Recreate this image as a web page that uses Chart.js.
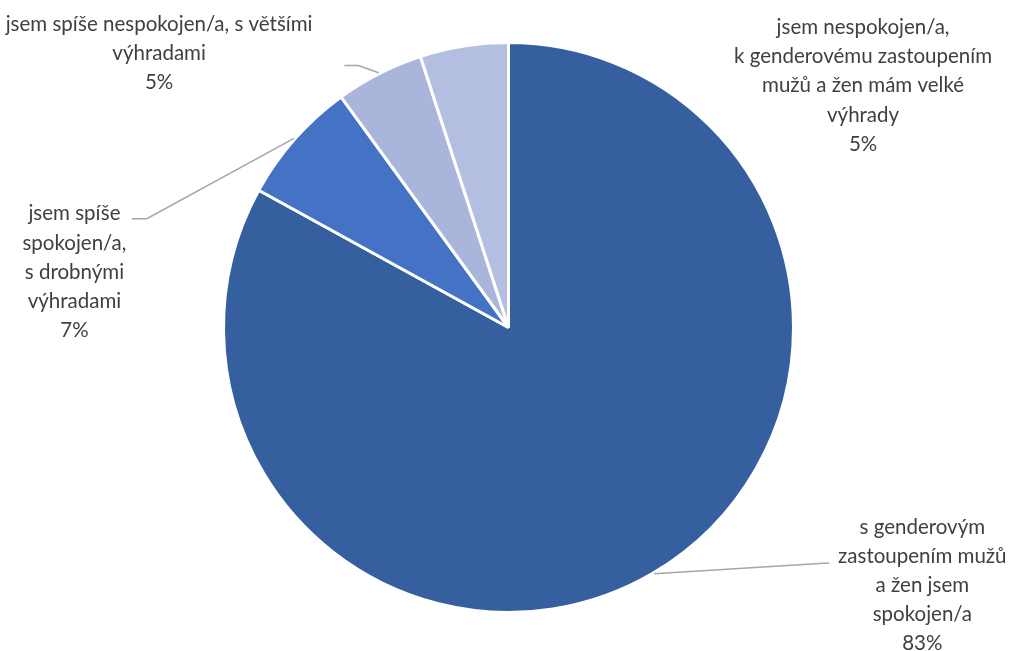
<!DOCTYPE html>
<html>
<head>
<meta charset="utf-8">
<script src="https://cdn.jsdelivr.net/npm/chart.js@4/dist/chart.umd.min.js"></script>
<style>
  html, body { margin: 0; padding: 0; background: #ffffff; }
  #wrap { width: 1017px; height: 651px; position: relative; }
</style>
</head>
<body>
<div id="wrap"><canvas id="pie"></canvas></div>
<script>
// Spokojenost s genderovým zastoupením mužů a žen
const categories = [
  's genderovým\nzastoupením mužů\na žen jsem\nspokojen/a',
  'jsem spíše\nspokojen/a,\ns drobnými\nvýhradami',
  'jsem spíše nespokojen/a, s většími\nvýhradami',
  'jsem nespokojen/a,\nk genderovému zastoupením\nmužů a žen mám velké\nvýhrady'
];
const shares = [83, 7, 5, 5];
const percentLabels = ['83%', '7%', '5%', '5%'];
const sliceColors = ['#365FA0', '#4472C4', '#A9B5DA', '#B4BEE0'];

// Label block centres and leader-line bends, in units of the pie radius from its centre
const labelPlacement = [
  { cx: 1.452, cy: 0.905, leader: [[1.106, 0.827], [1.125, 0.827]] },
  { cx: -1.523, cy: -0.194, leader: [[-1.269, -0.382], [-1.322, -0.382]] },
  { cx: -1.226, cy: -0.961, leader: [[-0.527, -0.919], [-0.576, -0.919]] },
  { cx: 1.244, cy: -0.848, leader: null }
];

const labelPlugin = {
  id: 'outsideLabels',
  afterDatasetsDraw(chart) {
    const ctx = chart.ctx;
    const meta = chart.getDatasetMeta(0);
    ctx.save();
    meta.data.forEach((arc, i) => {
      const p = arc.getProps(['x', 'y', 'startAngle', 'endAngle', 'outerRadius'], true);
      const r = p.outerRadius;
      const mid = (p.startAngle + p.endAngle) / 2;
      const place = labelPlacement[i];
      if (place.leader) {
        ctx.beginPath();
        ctx.strokeStyle = '#A6A6A6';
        ctx.lineWidth = 1.5;
        ctx.moveTo(p.x + Math.cos(mid) * (r + 1), p.y + Math.sin(mid) * (r + 1));
        place.leader.forEach(([lx, ly]) => ctx.lineTo(p.x + lx * r, p.y + ly * r));
        ctx.stroke();
      }
      const lines = categories[i].split('\n').concat([percentLabels[i]]);
      const lh = 29.2;
      const top = p.y + place.cy * r - (lines.length - 1) * lh / 2;
      ctx.fillStyle = '#404040';
      ctx.font = '20.5px Lato, "Open Sans", sans-serif';
      ctx.textAlign = 'center';
      ctx.textBaseline = 'middle';
      lines.forEach((t, k) => ctx.fillText(t, p.x + place.cx * r, top + k * lh));
    });
    ctx.restore();
  }
};

new Chart(document.getElementById('pie'), {
  type: 'pie',
  data: {
    labels: categories,
    datasets: [{
      data: shares,
      backgroundColor: sliceColors,
      borderColor: '#ffffff',
      borderWidth: 3
    }]
  },
  options: {
    responsive: true,
    maintainAspectRatio: false,
    animation: false,
    layout: { padding: { top: 41, bottom: 37, left: 0, right: 0 } },
    plugins: { legend: { display: false }, tooltip: { enabled: false } }
  },
  plugins: [labelPlugin]
});
</script>
</body>
</html>
